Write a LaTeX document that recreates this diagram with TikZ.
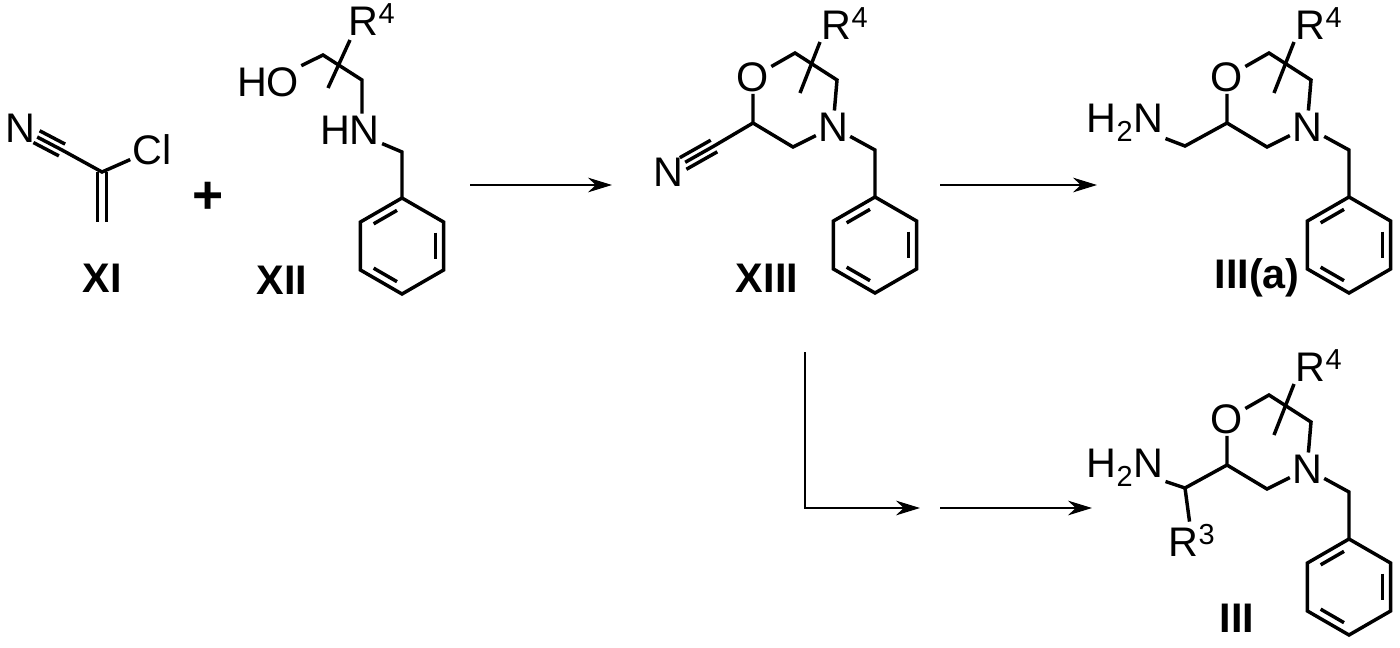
\documentclass[tikz,border=0pt]{standalone}
\usepackage{fontspec}
\setmainfont{Liberation Sans}
\usetikzlibrary{arrows.meta,calc}
\tikzset{
  bond/.style={line width=2.6pt,line cap=butt,line join=miter},
  atom/.style={inner sep=1.5pt,font=\fontsize{31}{34}\selectfont},
  lbl/.style={inner sep=0pt,font=\fontsize{31}{34}\selectfont\bfseries},
  rarrow/.style={line width=1.8pt,-{Stealth[length=18pt,width=11pt]}}
}
\newcommand\benz[2]{%
\begin{scope}[shift={(#1,#2)}]
\draw[bond] (270:48)--(330:48)--(30:48)--(90:48)--(150:48)--(210:48)--cycle;
\draw[bond] (218:36)--(262:36);
\draw[bond] (338:36)--(22:36);
\draw[bond] (98:36)--(142:36);
\end{scope}}
\newcommand\morph[3]{%
\begin{scope}[shift={(#2,#3)}]
\node[atom] (#1O) at (753,77) {O};
\node[atom] (#1N) at (833,127) {N};
\coordinate (#1C2) at (753,123);
\coordinate (#1C6) at (793,147);
\coordinate (#1C5) at (837,80);
\coordinate (#1C3) at (795,53);
\coordinate (#1Bn) at (875,150);
\coordinate (#1ip) at (875,197);
\coordinate (#1xa) at (800,93);
\coordinate (#1xb) at (820,42);
\draw[bond] (#1O) -- (#1C3) -- (#1C5) -- (#1N);
\draw[bond] (#1N) -- (#1C6) -- (#1C2) -- (#1O);
\draw[bond] (#1N) -- (#1Bn) -- (#1ip);
\draw[bond] (#1xa) -- (#1xb);
\node[atom] (#1R) at (845,24) {R\textsuperscript{4}};
\end{scope}
\benz{\the\numexpr875+#2\relax}{\the\numexpr245+#3\relax}}
\begin{document}
\begin{tikzpicture}[x=0.75pt,y=-0.75pt]
\useasboundingbox (0,0) rectangle (1400,647);
% XI
\node[atom] (xiN) at (20,128) {N};
\coordinate (xiCn) at (62,150);
\coordinate (xiC) at (102,172);
\coordinate (xiCH) at (102,222);
\node[atom] (xiCl) at (152,150) {Cl};
\draw[bond] (xiN) -- (xiCn) -- (xiC) -- (xiCl);
\coordinate (t0) at ($(xiN)!14pt!(xiCn)$);
\draw[bond] ($(t0)!5pt!90:(xiCn)$) -- ($(xiCn)!5pt!-90:(t0)$);
\draw[bond] ($(t0)!5pt!-90:(xiCn)$) -- ($(xiCn)!5pt!90:(t0)$);
\draw[bond] ([xshift=-3.5pt]xiC) -- ([xshift=-3.5pt]xiCH);
\draw[bond] ([xshift=3.5pt]xiC) -- ([xshift=3.5pt]xiCH);
\node[lbl] (lXI) at (102,278) {XI};
\node[inner sep=0pt,font=\fontsize{40}{40}\selectfont\bfseries] (plus) at (208,198) {+};
% XII
\node[atom] (xiiHO) at (268,82) {HO};
\coordinate (xiiC1) at (323,55);
\coordinate (xiiC2) at (362,80);
\node[atom] (xiiHN) at (350,130) {HN};
\coordinate (xiiBn) at (402,152);
\coordinate (xiixa) at (328,88);
\coordinate (xiixb) at (350,40);
\draw[bond] (xiiHO) -- (xiiC1) -- (xiiC2) -- (xiiC2 |- xiiHN.north);
\draw[bond] (xiiHN) -- (xiiBn) -- (402,198);
\draw[bond] (xiixa) -- (xiixb);
\node[atom] (xiiR) at (372,20) {R\textsuperscript{4}};
\benz{402}{246}
\node[lbl] (lXII) at (282,280) {XII};
% XIII
\morph{c}{0}{0}
\coordinate (cCn) at (714,146);
\node[atom] (cNn) at (668,172) {N};
\draw[bond] (cC2) -- (cCn) -- (cNn);
\coordinate (t1) at ($(cNn)!13pt!(cCn)$);
\draw[bond] ($(t1)!5pt!90:(cCn)$) -- ($(cCn)!5pt!-90:(t1)$);
\draw[bond] ($(t1)!5pt!-90:(cCn)$) -- ($(cCn)!5pt!90:(t1)$);
\node[lbl] (lXIII) at (767,278) {XIII};
% III(a)
\morph{a}{474}{0}
\node[atom] (aNH) at (1125,123) {H\textsubscript{2}N};
\coordinate (aCH) at (1185,146);
\draw[bond] (aNH) -- (aCH) -- (aC2);
\node[lbl] (lIIIa) at (1257,278) {III(a)};
% III
\morph{b}{474}{342}
\node[atom] (bNH) at (1125,468) {H\textsubscript{2}N};
\coordinate (bCH) at (1185,488);
\node[atom] (bR3) at (1192,540) {R\textsuperscript{3}};
\draw[bond] (bNH) -- (bCH) -- (bC2);
\draw[bond] (bCH) -- (bR3);
\node[lbl] (lIII) at (1237,618) {III};
% arrows
\coordinate (a1s) at (470,185); \coordinate (a1e) at (612,185);
\coordinate (a2s) at (940,185); \coordinate (a2e) at (1097,185);
\coordinate (a3s) at (805,352); \coordinate (a3m) at (805,508); \coordinate (a3e) at (920,508);
\coordinate (a4s) at (940,508); \coordinate (a4e) at (1092,508);
\draw[rarrow] (a1s) -- (a1e);
\draw[rarrow] (a2s) -- (a2e);
\draw[rarrow] (a3s) -- (a3m) -- (a3e);
\draw[rarrow] (a4s) -- (a4e);
\end{tikzpicture}
\end{document}
